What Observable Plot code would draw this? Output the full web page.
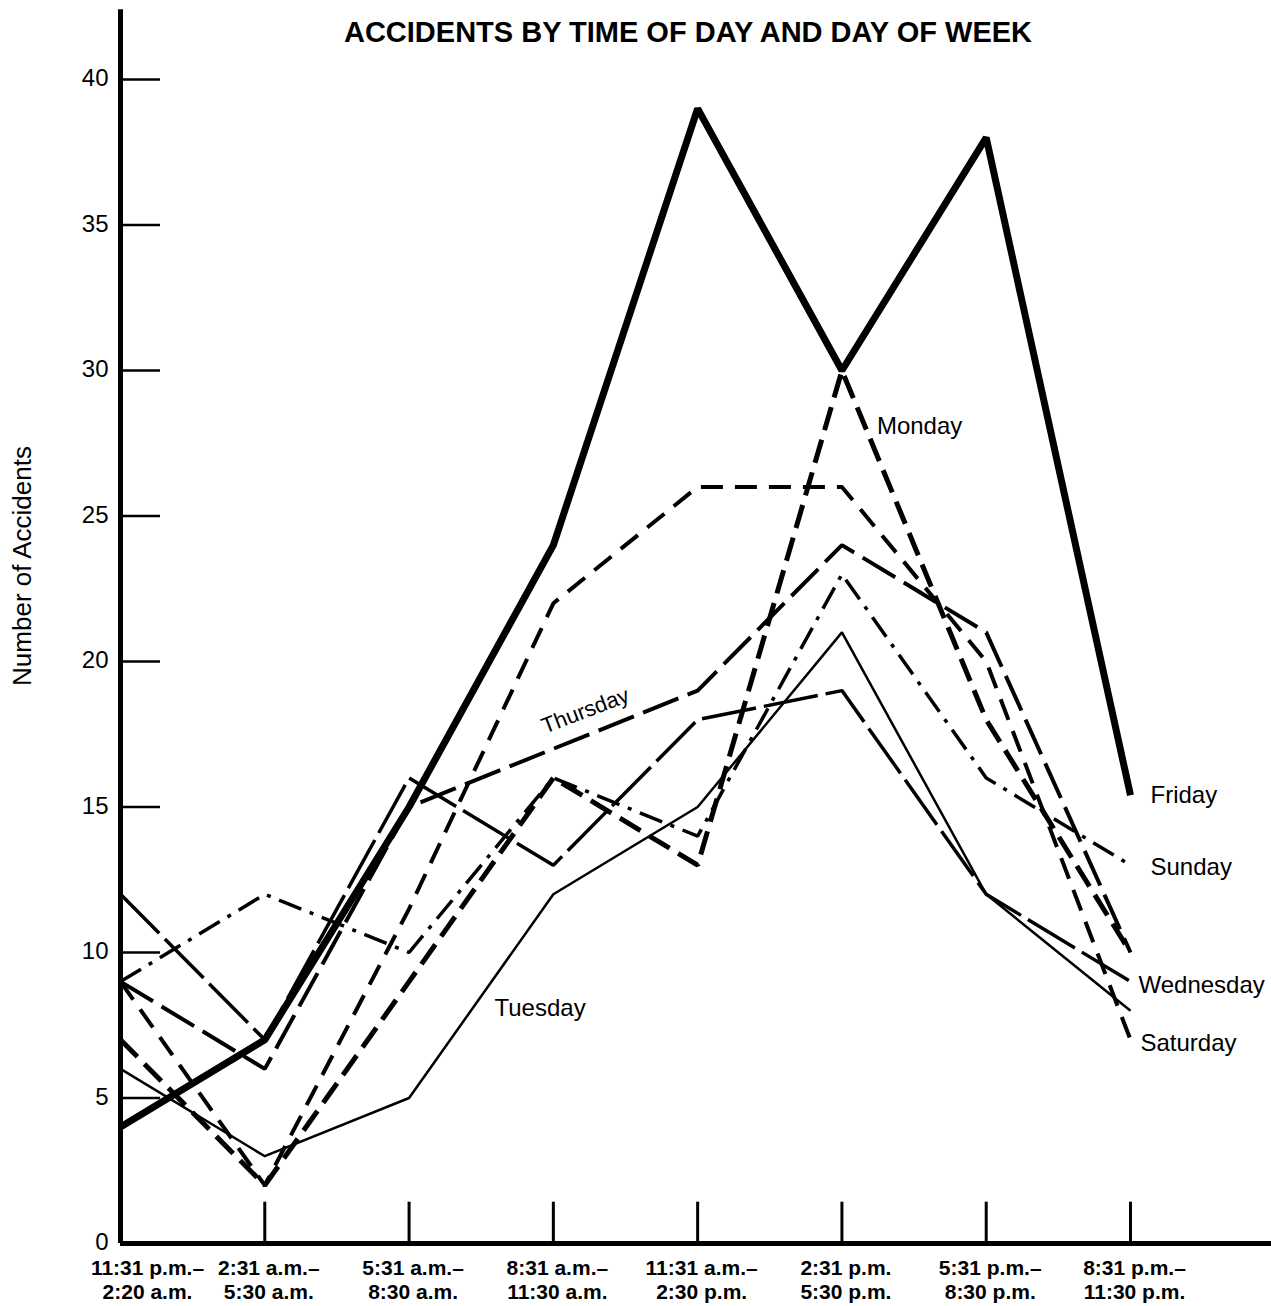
<!DOCTYPE html>
<html>
<head>
<meta charset="utf-8">
<script src="https://cdn.jsdelivr.net/npm/d3@7"></script>
<script src="https://cdn.jsdelivr.net/npm/@observablehq/plot@0.6"></script>
<style>
  html, body { margin: 0; padding: 0; background: #fff; }
  #chart svg { display: block; }
</style>
</head>
<body>
<div id="chart"></div>
<script>
// ---- data ----
const periods = [
  "11:31 p.m.–\n2:20 a.m.",
  "2:31 a.m.–\n5:30 a.m.",
  "5:31 a.m.–\n8:30 a.m.",
  "8:31 a.m.–\n11:30 a.m.",
  "11:31 a.m.–\n2:30 p.m.",
  "2:31 p.m.\n5:30 p.m.",
  "5:31 p.m.–\n8:30 p.m.",
  "8:31 p.m.–\n11:30 p.m."
];
const days = ["Monday", "Tuesday", "Wednesday", "Thursday", "Friday", "Saturday", "Sunday"];
const monday    = [7, 2, 9, 16, 13, 30, 18, 10];
const tuesday   = [6, 3, 5, 12, 15, 21, 12, 8];
const wednesday = [12, 7, 16, 13, 18, 19, 12, 9];
const thursday  = [9, 6, 15, 17, 19, 24, 21, 10];
const friday    = [4, 7, 15, 24, 39, 30, 38, 15.4];
const saturday  = [9, 2, 11.5, 22, 26, 26, 20, 7];
const sunday    = [9, 12, 10, 16, 14, 23, 16, 13];
const yTicks = [0, 5, 10, 15, 20, 25, 30, 35, 40];
const title = "ACCIDENTS BY TIME OF DAY AND DAY OF WEEK";
const yTitle = "Number of Accidents";

// ---- build table ----
const seriesValues = {Monday: monday, Tuesday: tuesday, Wednesday: wednesday, Thursday: thursday,
                      Friday: friday, Saturday: saturday, Sunday: sunday};
const rows = days.flatMap(day => seriesValues[day].map((v, i) => ({day, i, v})));
const idx = periods.map((_, i) => i);
const of = day => rows.filter(r => r.day === day);

const FONT = "'Liberation Sans', Arial, Helvetica, sans-serif";

const styles = {
  Friday:    {strokeWidth: 7},
  Monday:    {strokeWidth: 5, strokeDasharray: "24,10"},
  Tuesday:   {strokeWidth: 2.5},
  Wednesday: {strokeWidth: 3.5, strokeDasharray: "55,8"},
  Thursday:  {strokeWidth: 4, strokeDasharray: "38,10"},
  Saturday:  {strokeWidth: 4, strokeDasharray: "22,12"},
  Sunday:    {strokeWidth: 3.5, strokeDasharray: "24,9,4,9"}
};

const lineMarks = days.map(day => Plot.line(of(day), {
  x: "i", y: "v", stroke: "black", strokeLinejoin: "miter", strokeLinecap: "butt",
  ...styles[day]
}));

const pointAt = (day, i) => of(day).filter(r => r.i === i);
const labelOpts = {x: "i", y: "v", text: "day", fill: "black", fontSize: 24, fontFamily: FONT};
const xLabelOpts = {x: d => d, y: () => 0, text: d => periods[d], dy: 14,
  lineAnchor: "top", lineHeight: 1.15, fontWeight: "bold", fontSize: 21, fontFamily: FONT, fill: "black"};

const chart = Plot.plot({
  width: 1271,
  height: 1306,
  marginLeft: 120,
  marginRight: 0,
  marginTop: 0,
  marginBottom: 63,
  style: {fontFamily: FONT, background: "#fff", color: "#000"},
  x: {type: "linear", domain: [0, 7], range: [120, 1130], axis: null},
  y: {type: "linear", domain: [0, 40], range: [1243, 79], axis: null},
  marks: [
    // y tick labels
    Plot.axisY(yTicks, {anchor: "left", label: null, tickSize: 0, tickPadding: 12, fontSize: 24, fontFamily: FONT, tickFormat: d => String(d), dy: -1}),
    // y tick marks pointing inward
    Plot.ruleY(yTicks.filter(d => d > 0), {x1: 0, x2: 40 / 144.3, strokeWidth: 2.5, stroke: "black"}),
    // x tick marks pointing upward
    Plot.ruleX(idx.filter(i => i > 0), {y1: 0, y2: 1.42, strokeWidth: 3, stroke: "black"}),
    // x tick labels
    Plot.text(idx.filter(i => i === 0), {...xLabelOpts, dx: 27}),
    Plot.text(idx.filter(i => i > 0), {...xLabelOpts, dx: 4}),
    // lines
    ...lineMarks,
    // axes lines
    Plot.ruleY([0], {strokeWidth: 5, stroke: "black"}),
    Plot.ruleX([0], {y1: 0, y2: 42.4, strokeWidth: 5, stroke: "black"}),
    // day labels
    Plot.text(pointAt("Monday", 5), {...labelOpts, textAnchor: "start", dx: 35, dy: 56}),
    Plot.text(pointAt("Tuesday", 2), {...labelOpts, textAnchor: "middle", dx: 131, dy: -90}),
    Plot.text(pointAt("Thursday", 3), {...labelOpts, textAnchor: "middle", dx: 32, dy: -38, rotate: -21, fontSize: 22}),
    Plot.text(pointAt("Friday", 7), {...labelOpts, textAnchor: "start", dx: 20, dy: 0}),
    Plot.text(pointAt("Sunday", 7), {...labelOpts, textAnchor: "start", dx: 20, dy: 2}),
    Plot.text(pointAt("Wednesday", 7), {...labelOpts, textAnchor: "start", dx: 8, dy: 4}),
    Plot.text(pointAt("Saturday", 7), {...labelOpts, textAnchor: "start", dx: 10, dy: 4}),
    // title
    Plot.text([title], {frameAnchor: "top", text: d => d, dy: 32, dx: -8, fontSize: 29, fontWeight: "bold", fontFamily: FONT, fill: "black", lineAnchor: "middle"}),
    // y axis title
    Plot.text([yTitle], {frameAnchor: "left", text: d => d, rotate: -90, textAnchor: "middle", dx: -98, dy: -56, fontSize: 26, fontFamily: FONT, fill: "black"})
  ]
});
document.getElementById("chart").appendChild(chart);
</script>
</body>
</html>
